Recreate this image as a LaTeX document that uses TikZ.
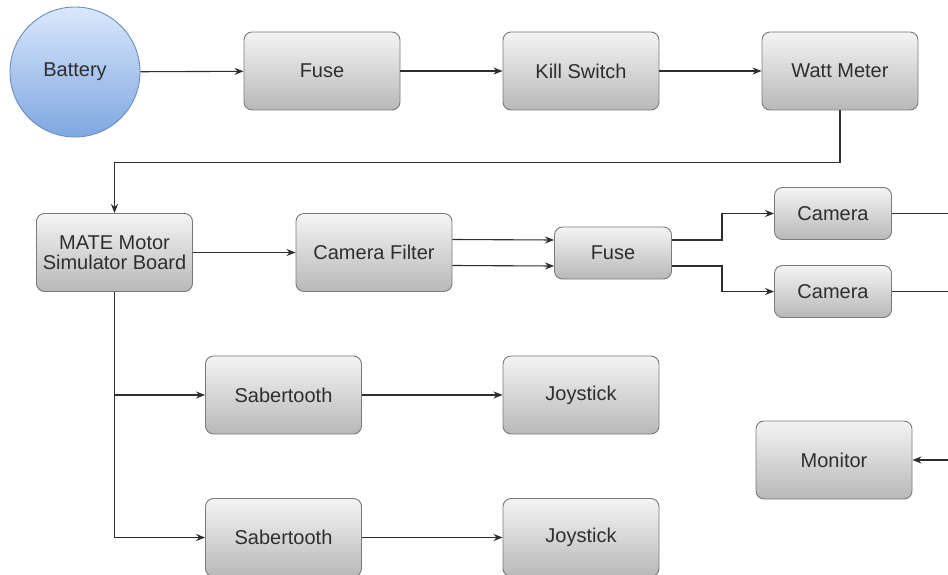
\documentclass[tikz,border=0pt]{standalone}
\usepackage{fontspec}
\setmainfont{Liberation Sans}
\usetikzlibrary{arrows.meta}
\definecolor{boxline}{HTML}{7A7A7A}
\definecolor{boxtop}{HTML}{F4F4F4}
\definecolor{boxbot}{HTML}{B8B8B8}
\definecolor{battop}{HTML}{DAE8FC}
\definecolor{batbot}{HTML}{7EA6E0}
\definecolor{batline}{HTML}{6C8EBF}
\definecolor{wirecol}{HTML}{2E2E2E}
\tikzset{
  block/.style={draw=boxline, line width=0.9pt, rounded corners=8pt,
    top color=boxtop, bottom color=boxbot, text=wirecol,
    minimum width=156pt, minimum height=78pt, inner sep=2pt,
    align=center, font=\fontsize{20}{22}\selectfont},
  smallblock/.style={block, minimum width=117pt, minimum height=52pt},
  cell/.style={draw=batline, line width=0.9pt, circle, minimum size=130pt,
    top color=battop, bottom color=batbot, text=wirecol,
    font=\fontsize{20}{22}\selectfont},
  wire/.style={draw=wirecol, line width=1.1pt, -{Stealth[length=9pt,width=7pt]}},
  lead/.style={draw=wirecol, line width=1.1pt}
}
\begin{document}
\begin{tikzpicture}[x=1pt, y=-1pt]
  \useasboundingbox[fill=white] (0,0) rectangle (948,575);
  % top row
  \node[cell]  (bat)   at (75,72)   {Battery};
  \node[block] (fuse1) at (322,71)  {Fuse};
  \node[block] (kill)  at (581,71)  {Kill Switch};
  \node[block] (watt)  at (840,71)  {Watt Meter};
  % middle
  \node[block] (mate)  at (114.5,252.5) {MATE Motor\\[-2pt]Simulator Board};
  \node[block] (filt)  at (374,252.5)   {Camera Filter};
  \node[smallblock] (fuse2) at (613,253)   {Fuse};
  \node[smallblock] (cam1)  at (833,213.5) {Camera};
  \node[smallblock] (cam2)  at (833,291.5) {Camera};
  % lower part
  \node[block] (sab1) at (283.5,395)   {Sabertooth};
  \node[block] (joy1) at (581,395)     {Joystick};
  \node[block] (sab2) at (283.5,537.5) {Sabertooth};
  \node[block] (joy2) at (581,537.5)   {Joystick};
  \node[block] (mon)  at (834,460)     {Monitor};
  \coordinate (out1) at (948,213.5);
  \coordinate (out2) at (948,291.5);
  \coordinate (in3)  at (948,460);
  % connectors
  \draw[wire] (bat) -- (fuse1);
  \draw[wire] (fuse1) -- (kill);
  \draw[wire] (kill) -- (watt);
  \draw[wire] (watt.south) -- ++(0,52) -| (mate.north);
  \draw[wire] (mate) -- (filt);
  \draw[wire] ([yshift=13pt]filt.east) -- ([yshift=13pt]fuse2.west);
  \draw[wire] ([yshift=-13pt]filt.east) -- ([yshift=-13pt]fuse2.west);
  \draw[wire] ([yshift=13pt]fuse2.east) -- ++(50,0) |- (cam1.west);
  \draw[wire] ([yshift=-13pt]fuse2.east) -- ++(50,0) |- (cam2.west);
  \draw[lead] (cam1) -- (out1);
  \draw[lead] (cam2) -- (out2);
  \draw[wire] (in3) -- (mon);
  \draw[wire] (mate.south) |- (sab1.west);
  \draw[wire] (mate.south) |- (sab2.west);
  \draw[wire] (sab1) -- (joy1);
  \draw[wire] (sab2) -- (joy2);
\end{tikzpicture}
\end{document}
